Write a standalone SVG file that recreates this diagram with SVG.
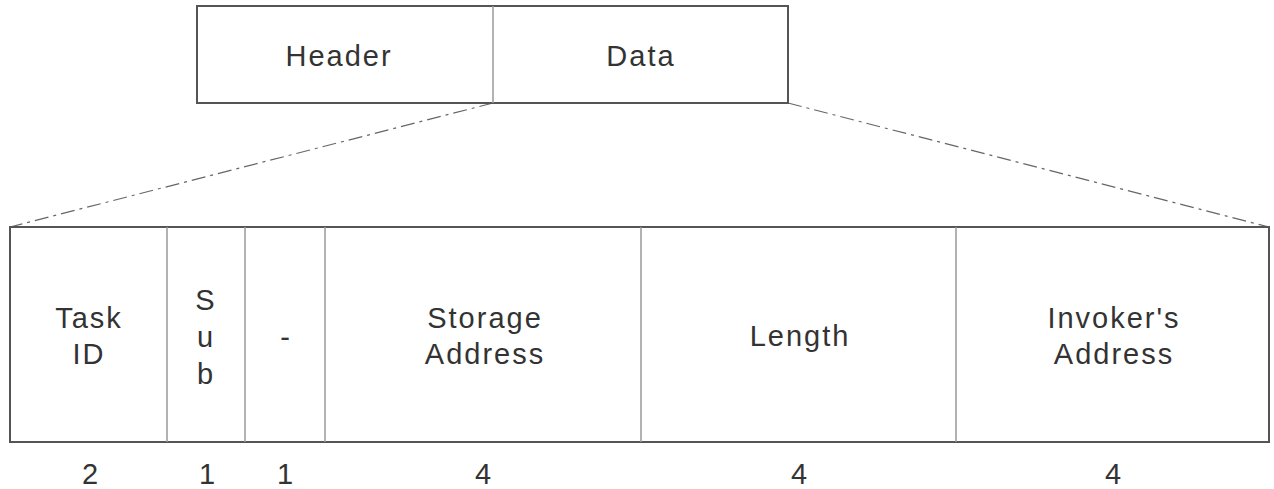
<svg xmlns="http://www.w3.org/2000/svg" width="1274" height="489" viewBox="0 0 1274 489">
<style>
.outer{fill:#fff;stroke:#555;stroke-width:2}
.div{stroke:#999;stroke-width:1.5}
.lbl{font-family:"Liberation Sans",Arial,sans-serif;font-size:29px;fill:#333;text-anchor:middle;letter-spacing:2px}
.dash{fill:none;stroke:#666;stroke-width:1.2;stroke-dasharray:14 5 3 5}
</style>
<rect width="1274" height="489" fill="#fff"/>
<g id="connectors">
<line class="dash" x1="493" y1="103" x2="10" y2="227"/>
<line class="dash" x1="788" y1="103" x2="1269" y2="227"/>
</g>
<g id="packet">
<rect class="outer" x="197" y="6" width="591" height="97"/>
<line class="div" x1="493" y1="6" x2="493" y2="103"/>
</g>
<g id="header"><text class="lbl" x="339" y="66">Header</text></g>
<g id="data"><text class="lbl" x="641" y="66">Data</text></g>
<g id="fields">
<rect class="outer" x="10" y="227" width="1259" height="215"/>
<line class="div" x1="167" y1="227" x2="167" y2="442"/>
<line class="div" x1="245" y1="227" x2="245" y2="442"/>
<line class="div" x1="325" y1="227" x2="325" y2="442"/>
<line class="div" x1="641" y1="227" x2="641" y2="442"/>
<line class="div" x1="956" y1="227" x2="956" y2="442"/>
</g>
<g id="taskid"><text class="lbl" x="89" y="328">Task</text><text class="lbl" x="89" y="364">ID</text><text class="lbl" x="91" y="484">2</text></g>
<g id="sub"><text class="lbl" x="206" y="310">S</text><text class="lbl" x="206" y="347">u</text><text class="lbl" x="206" y="384">b</text><text class="lbl" x="208" y="484">1</text></g>
<g id="reserved"><text class="lbl" x="286" y="347">-</text><text class="lbl" x="286" y="484">1</text></g>
<g id="storage"><text class="lbl" x="485" y="328">Storage</text><text class="lbl" x="485" y="364">Address</text><text class="lbl" x="484" y="484">4</text></g>
<g id="length"><text class="lbl" x="800" y="346">Length</text><text class="lbl" x="800" y="484">4</text></g>
<g id="invoker"><text class="lbl" x="1114" y="328">Invoker's</text><text class="lbl" x="1114" y="364">Address</text><text class="lbl" x="1114" y="484">4</text></g>
</svg>
